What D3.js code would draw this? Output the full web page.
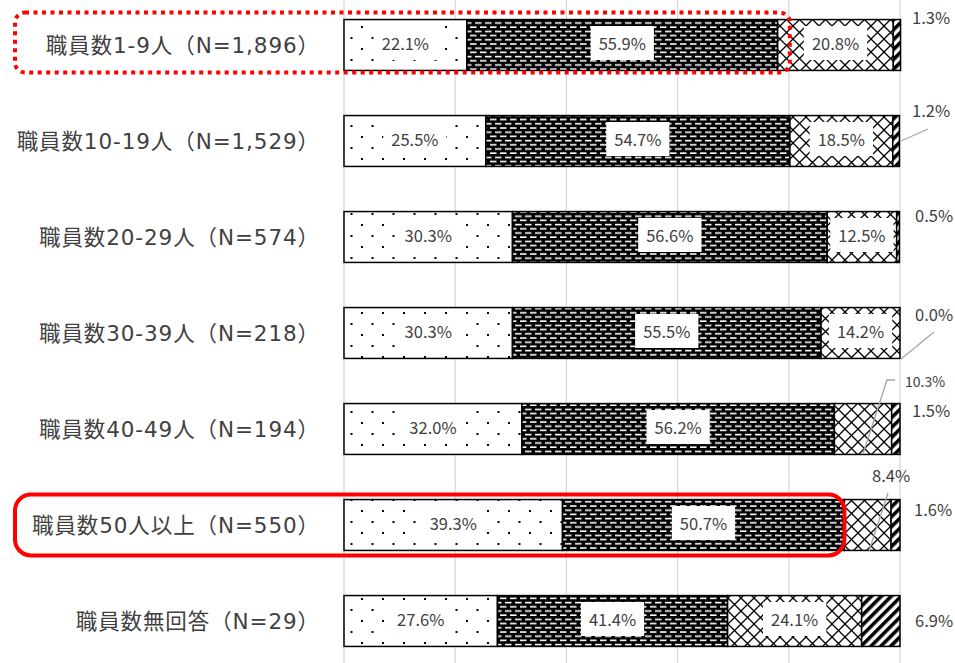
<!DOCTYPE html>
<html><head><meta charset="utf-8">
<script src="https://cdn.jsdelivr.net/npm/d3@7"></script>
<style>body{margin:0;background:#fff}svg{display:block}</style>
</head><body><svg id="c" width="955" height="663"></svg>
<script>
const categories = ["職員数1-9人（N=1,896）","職員数10-19人（N=1,529）","職員数20-29人（N=574）","職員数30-39人（N=218）","職員数40-49人（N=194）","職員数50人以上（N=550）","職員数無回答（N=29）"];
const seriesA = [22.1,25.5,30.3,30.3,32.0,39.3,27.6];
const seriesB = [55.9,54.7,56.6,55.5,56.2,50.7,41.4];
const seriesC = [20.8,18.5,12.5,14.2,10.3,8.4,24.1];
const seriesD = [1.3,1.2,0.5,0.0,1.5,1.6,6.9];
const xTicks = [0,20,40,60,80,100];

// layout config (not data)
const outsideLabels = [
  {row:0,s:3,dx:12,dy:-28},
  {row:1,s:3,dx:12,dy:-31,leader:[[1,0],[28,-12]]},
  {row:2,s:3,dx:15,dy:-22},
  {row:3,s:3,dx:15,dy:-19,leader:[[1,26],[34,-1]]},
  {row:4,s:2,dx:5,dy:-48,fs:14,leader:[[-37,25],[-13,-49],[-5,-49]]},
  {row:4,s:3,dx:12,dy:-19},
  {row:5,s:2,dx:-28,dy:-50,leader:[[-31,26],[-12,-32]]},
  {row:5,s:3,dx:14,dy:-16},
  {row:6,s:3,dx:15,dy:-1}
];

const svg = d3.select("#c");
const W = 955, H = 663;
const x = d3.scaleLinear().domain([0,100]).range([344,900]);
const y = d3.scaleBand().domain(d3.range(categories.length)).range([-3,669]).paddingInner(0.47).paddingOuter(0.235);

const defs = svg.append("defs");
// dots
let p = defs.append("pattern").attr("id","pA").attr("patternUnits","userSpaceOnUse").attr("width",21).attr("height",22);
p.append("rect").attr("width",21).attr("height",22).attr("fill","#fff");
p.append("rect").attr("x",4).attr("y",4).attr("width",2).attr("height",2).attr("fill","#000");
p.append("rect").attr("x",14.5).attr("y",15).attr("width",2).attr("height",2).attr("fill","#000");
// dashes on black
p = defs.append("pattern").attr("id","pB").attr("patternUnits","userSpaceOnUse").attr("width",10).attr("height",8.4);
p.append("rect").attr("width",10).attr("height",8.4).attr("fill","#000");
p.append("rect").attr("x",0).attr("y",1.2).attr("width",6.5).attr("height",1.6).attr("fill","#fff");
p.append("rect").attr("x",5).attr("y",5.4).attr("width",6.5).attr("height",1.6).attr("fill","#fff");
p.append("rect").attr("x",-5).attr("y",5.4).attr("width",6.5).attr("height",1.6).attr("fill","#fff");
// diamond lattice
p = defs.append("pattern").attr("id","pC").attr("patternUnits","userSpaceOnUse").attr("width",13).attr("height",13);
p.append("rect").attr("width",13).attr("height",13).attr("fill","#fff");
p.append("path").attr("d","M0,0L13,13M13,0L0,13M-1,12L1,14M12,-1L14,1").attr("stroke","#000").attr("stroke-width",1.3);
// diagonal stripes
p = defs.append("pattern").attr("id","pD").attr("patternUnits","userSpaceOnUse").attr("width",7).attr("height",10).attr("patternTransform","rotate(45)");
p.append("rect").attr("width",7).attr("height",10).attr("fill","#fff");
p.append("rect").attr("width",3.6).attr("height",10).attr("fill","#000");

// gridlines
svg.append("g").selectAll("line").data(xTicks).join("line")
  .attr("x1",d=>x(d)).attr("x2",d=>x(d)).attr("y1",0).attr("y2",H)
  .attr("stroke","#d9d9d9").attr("stroke-width",1.3);

const series = [seriesA,seriesB,seriesC,seriesD];
const fills = ["url(#pA)","url(#pB)","url(#pC)","url(#pD)"];
const rows = categories.map((c,i)=>{
  let acc=0; return series.map((s,k)=>{const v=s[i]; const o={row:i,s:k,v,x0:acc,x1:acc+v}; acc+=v; return o;});
});
const segs = rows.flat();

svg.append("g").selectAll("rect").data(segs.filter(d=>d.v>0)).join("rect")
  .attr("x",d=>x(d.x0)).attr("width",d=>x(d.x1)-x(d.x0))
  .attr("y",d=>y(d.row)).attr("height",y.bandwidth())
  .attr("fill",d=>fills[d.s]).attr("stroke","#000").attr("stroke-width",1.5);

const fmt = v=>v.toFixed(1)+"%";
const font = "'Noto Sans CJK JP','Noto Sans',sans-serif";
const catFont = "'DejaVu Sans','Noto Sans CJK JP',sans-serif";
const LFS = 16.5;
// inside labels
const isOutside = d=>outsideLabels.some(o=>o.row===d.row&&o.s===d.s);
const inside = svg.append("g").selectAll("g").data(segs.filter(d=>!isOutside(d))).join("g")
  .attr("transform",d=>`translate(${(x(d.x0)+x(d.x1))/2},${y(d.row)+y.bandwidth()/2-2})`);
inside.append("text").text(d=>fmt(d.v)).attr("text-anchor","middle").attr("dominant-baseline","central")
  .attr("font-family",font).attr("font-size",LFS).attr("fill","#404040");
inside.each(function(){
  const g=d3.select(this); const t=g.select("text"); const bb=t.node().getBBox();
  g.insert("rect","text").attr("x",-bb.width/2-8).attr("y",-17).attr("width",bb.width+16).attr("height",34).attr("fill","#fff");
});

// outside labels with leaders
const og = svg.append("g");
outsideLabels.forEach(o=>{
  const ax = x(100), ay = y(o.row)+y.bandwidth()/2;
  const v = series[o.s][o.row];
  if(o.leader){
    og.append("path").attr("d",d3.line()(o.leader.map(p=>[ax+p[0],ay+p[1]])))
      .attr("fill","none").attr("stroke","#a6a6a6").attr("stroke-width",1.3);
  }
  og.append("text").attr("x",ax+o.dx).attr("y",ay+o.dy).text(fmt(v))
    .attr("dominant-baseline","central").attr("font-family",font).attr("font-size",o.fs||LFS).attr("fill","#404040");
});

// category labels
svg.append("g").selectAll("text").data(categories).join("text")
  .attr("x",320).attr("y",(d,i)=>y(i)+y.bandwidth()/2).text(d=>d)
  .attr("text-anchor","end").attr("dominant-baseline","central")
  .attr("font-family",catFont).attr("font-size",21.5).attr("letter-spacing",0.9).attr("fill","#404040");

// highlight frames
svg.append("rect").attr("x",15).attr("y",y(0)-7).attr("width",x(80)+1-15).attr("height",y.bandwidth()+9)
  .attr("rx",10).attr("fill","none").attr("stroke","#ff0000").attr("stroke-width",4).attr("stroke-dasharray","4,4.5");
svg.append("rect").attr("x",15).attr("y",y(5)-5).attr("width",x(90)-15).attr("height",y.bandwidth()+10)
  .attr("rx",16).attr("fill","none").attr("stroke","#ff0000").attr("stroke-width",4);
</script></body></html>
